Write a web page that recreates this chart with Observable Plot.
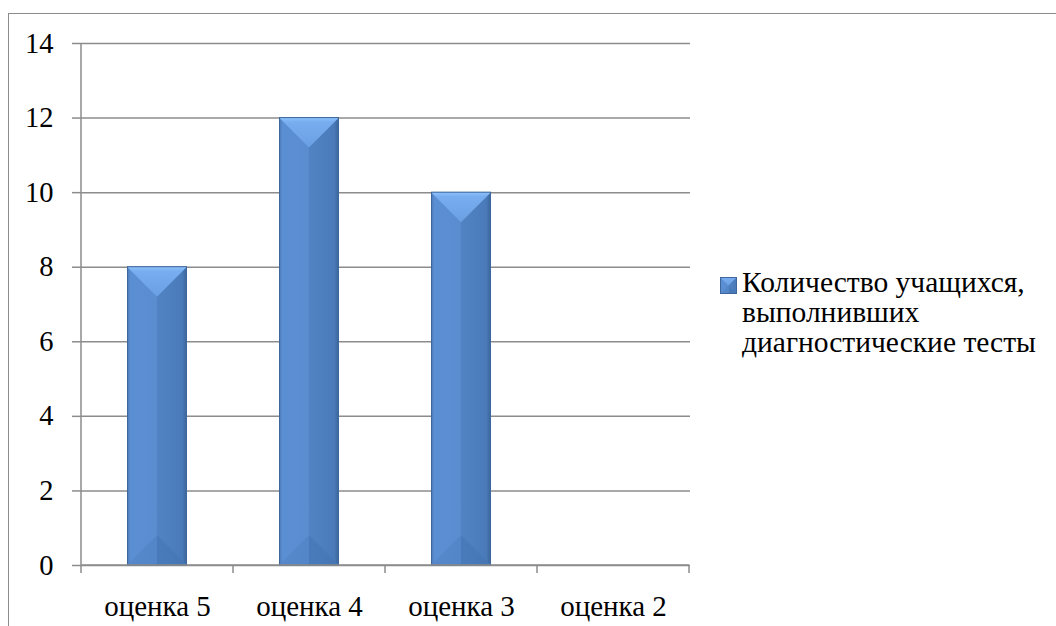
<!DOCTYPE html>
<html><head><meta charset="utf-8">
<script src="https://cdn.jsdelivr.net/npm/d3@7"></script>
<script src="https://cdn.jsdelivr.net/npm/@observablehq/plot@0.6"></script>
<style>
html,body{margin:0;padding:0;background:#fff;overflow:hidden;width:1056px;height:626px;}
#frame{position:absolute;left:8px;top:13px;width:1200px;height:800px;border:1.5px solid #8c8c8c;box-sizing:border-box;}
#chart{position:absolute;left:0;top:0;}
#legend{position:absolute;left:720px;top:267px;font-family:"Liberation Serif","Times New Roman",serif;font-size:29.5px;line-height:30px;color:#000;white-space:nowrap;}
#legend .sw{position:absolute;left:0;top:10px;width:17px;height:17px;}
#legend .tx{margin-left:22px;}
</style></head>
<body>
<div id="frame"></div>
<div id="chart"></div>
<div id="legend"><svg class="sw" width="17" height="17"><rect x="0" y="0" width="17" height="17" fill="url(#barGrad)"/><polygon points="0,0 17,0 8.5,8.5" fill="url(#topBevel)"/><polygon points="0,17 17,17 8.5,8.5" fill="url(#botBevel)"/><rect x="0.5" y="0.5" width="16" height="16" fill="none" stroke="#3e669c" stroke-width="1"/></svg><div class="tx" id="legendText"></div></div>
<script>
const categories = ["оценка 5", "оценка 4", "оценка 3", "оценка 2"];
const values = [8, 12, 10, 0];
const yTicks = [0, 2, 4, 6, 8, 10, 12, 14];
const seriesLines = ["Количество учащихся,", "выполнивших", "диагностические тесты"];

document.getElementById("legendText").innerHTML = seriesLines.join("<br>");

const data = categories.map((c, i) => ({cat: c, value: values[i]}));
const font = "Liberation Serif";
const gray = "#8c8c8c";
const NS = "http://www.w3.org/2000/svg";

function bevels(index, scales, vals, dims, context, next) {
  const g = next(index, scales, vals, dims, context);
  const rects = Array.from(g.querySelectorAll("rect"));
  rects.forEach(r => {
    const x0 = +r.getAttribute("x"), w = +r.getAttribute("width");
    const y0 = +r.getAttribute("y"), h = +r.getAttribute("height");
    if (!(h > 0)) return;
    const x1 = x0 + w, xc = x0 + w / 2, d = Math.min(w / 2, h / 2);
    const yb = y0 + h;
    const p = document.createElementNS(NS, "polygon");
    p.setAttribute("points", `${x0},${y0} ${x1},${y0} ${xc},${y0 + d}`);
    p.setAttribute("fill", "url(#topBevel)");
    g.appendChild(p);
    const q = document.createElementNS(NS, "polygon");
    q.setAttribute("points", `${x0},${yb} ${x1},${yb} ${xc},${yb - d}`);
    q.setAttribute("fill", "url(#botBevel)");
    g.appendChild(q);
    const e = document.createElementNS(NS, "rect");
    e.setAttribute("x", x0 + 0.5); e.setAttribute("y", y0);
    e.setAttribute("width", w - 1); e.setAttribute("height", h);
    e.setAttribute("fill", "none"); e.setAttribute("stroke", "#3e669c"); e.setAttribute("stroke-width", 1);
    g.appendChild(e);
  });
  return g;
}

function bandTicks(index, scales, vals, dims) {
  const x = scales.x;
  const bw = x.bandwidth ? x.bandwidth() : 0;
  const y0 = dims.height - dims.marginBottom;
  const g = d3.create("svg:g");
  const xs = categories.map(c => x(c));
  xs.push(x(categories[categories.length - 1]) + bw);
  xs.forEach(v => {
    g.append("line").attr("x1", v).attr("x2", v).attr("y1", y0).attr("y2", y0 + 8)
      .attr("stroke", gray).attr("stroke-width", 1.5);
  });
  g.append("line").attr("x1", xs[0]).attr("x2", xs[xs.length - 1]).attr("y1", y0).attr("y2", y0)
    .attr("stroke", gray).attr("stroke-width", 1.5);
  g.append("line").attr("x1", xs[0]).attr("x2", xs[0]).attr("y1", dims.marginTop).attr("y2", y0)
    .attr("stroke", gray).attr("stroke-width", 1.5);
  return g.node();
}

const chart = Plot.plot({
  width: 1056,
  height: 626,
  marginLeft: 80,
  marginRight: 366,
  marginTop: 43,
  marginBottom: 61,
  style: {fontFamily: font, fontSize: "29px", color: "#000", background: "transparent", overflow: "visible"},
  x: {domain: categories, padding: 0, label: null},
  y: {domain: [0, 14], label: null},
  marks: [
    Plot.gridY(yTicks, {stroke: gray, strokeOpacity: 1, strokeWidth: 1.5}),
    Plot.axisY(yTicks, {tickSize: 8, tickPadding: 19, stroke: gray, strokeOpacity: 1, strokeWidth: 1.5, fontSize: 28.5, fontFamily: font, fill: "#000", label: null}),
    Plot.barY(data, {x: "cat", y: "value", fill: "url(#barGrad)", insetLeft: 46, insetRight: 46, render: bevels}),
    Plot.axisX({tickSize: 0, tickPadding: 30, fontSize: 29, fontFamily: font, fill: "#000", label: null}),
    bandTicks
  ]
});

const defsSvg = `
<linearGradient id="barGrad" x1="0" x2="1" y1="0" y2="0">
  <stop offset="0" stop-color="#4a78b6"/>
  <stop offset="0.06" stop-color="#5b8fd3"/>
  <stop offset="0.5" stop-color="#5a8dd0"/>
  <stop offset="0.5" stop-color="#5183c3"/>
  <stop offset="0.92" stop-color="#4a7ab9"/>
  <stop offset="1" stop-color="#3a6398"/>
</linearGradient>
<linearGradient id="topBevel" x1="0" x2="0" y1="0" y2="1">
  <stop offset="0" stop-color="#8cc2fa"/>
  <stop offset="0.15" stop-color="#78aef0"/>
  <stop offset="1" stop-color="#6a9fe3"/>
</linearGradient>
<linearGradient id="botBevel" x1="0" x2="1" y1="0" y2="0">
  <stop offset="0" stop-color="#5587c9" stop-opacity="0.8"/>
  <stop offset="0.5" stop-color="#5184c6" stop-opacity="0.8"/>
  <stop offset="0.5" stop-color="#4779b8" stop-opacity="0.8"/>
  <stop offset="1" stop-color="#4575b3" stop-opacity="0.8"/>
</linearGradient>`;
const defs = document.createElementNS(NS, "defs");
defs.innerHTML = defsSvg;
chart.insertBefore(defs, chart.firstChild);
document.getElementById("chart").appendChild(chart);
</script>
</body></html>
